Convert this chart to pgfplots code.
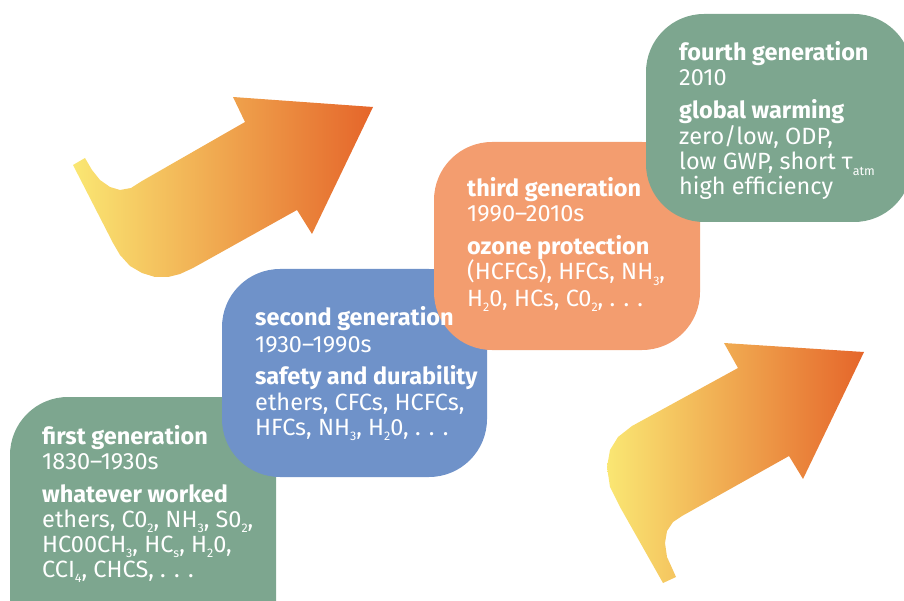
\documentclass[border=0pt]{standalone}
\usepackage{fontspec}
\setmainfont{Fira Sans}
\usepackage{pgfplots}
\pgfplotsset{compat=1.18}

\definecolor{genA}{HTML}{7DA68F}
\definecolor{genB}{HTML}{6F92C9}
\definecolor{genC}{HTML}{F39D6F}
\definecolor{arrY}{HTML}{FAE773}
\definecolor{arrM}{HTML}{F0AE4C}
\definecolor{arrO}{HTML}{E5652A}

\newcommand{\sub}[1]{\raisebox{-0.25em}{\fontsize{12.5}{12.5}\selectfont #1}}
\newcommand{\txt}[3]{\node[anchor=base west,inner sep=0pt,text=white,
  font=\fontsize{23.5}{23.5}\selectfont] at (axis cs:#1,#2) {#3};}

\begin{document}
\begin{tikzpicture}
\useasboundingbox (0,0) rectangle (904pt,601pt);
\begin{axis}[
    width=904pt, height=601pt, scale only axis,
    xmin=0, xmax=904, ymin=0, ymax=601,
    y dir=reverse,
    axis lines=none,
    clip=true,
  ]
  % arrows
  \addplot[draw=none, left color=arrY, middle color=arrM, right color=arrO, forget plot]
    coordinates {(85,158) (92,170) (100,180) (110,187) (120,190) (131,188) (142,181)
      (245,122) (233,97) (373,107) (312,234) (297,210) (193,268) (180,274) (168,277)
      (155,277) (142,273) (130,266) (120,255) (113,243) (73,165)} -- cycle;
  \addplot[draw=none, left color=arrY, middle color=arrM, right color=arrO, forget plot]
    coordinates {(724,343) (864,352) (803,479) (789,456) (682,516) (673,522) (667,531)
      (665,543) (667,557) (672,568) (676,577) (663,583) (650,560) (620,507) (610,487)
      (607,467) (610,450) (618,437) (632,426) (738,368)} -- cycle;

  % generation boxes
  \addplot[draw=none, fill=genA, rounded corners=58pt, forget plot]
    coordinates {(143,397) (276,397) (276,680) (10,680) (10,397)} -- cycle;
  \addplot[draw=none, fill=genB, rounded corners=58pt, forget plot]
    coordinates {(354,269) (487,269) (487,477) (222,477) (222,269)} -- cycle;
  \addplot[draw=none, fill=genC, rounded corners=58pt, forget plot]
    coordinates {(567,142) (700,142) (700,350) (434,350) (434,142)} -- cycle;
  \addplot[draw=none, fill=genA, rounded corners=58pt, forget plot]
    coordinates {(780,14) (912,14) (912,222) (646,222) (646,14)} -- cycle;

  % first generation
  \txt{42}{444}{\bfseries first generation}
  \txt{42}{469}{1830–1930s}
  \txt{42}{502}{\bfseries whatever worked}
  \txt{42}{527}{ethers, C0\sub{2}, NH\sub{3}, S0\sub{2},}
  \txt{42}{552}{HC00CH\sub{3}, HC\sub{s}, H\sub{2}0,}
  \txt{42}{577}{CCI\sub{4}, CHCS, . . .}
  % second generation
  \txt{255}{326}{\bfseries second generation}
  \txt{255}{352}{1930–1990s}
  \txt{255}{384}{\bfseries safety and durability}
  \txt{255}{410}{ethers, CFCs, HCFCs,}
  \txt{255}{435}{HFCs, NH\sub{3}, H\sub{2}0, . . .}
  % third generation
  \txt{467}{197}{\bfseries third generation}
  \txt{467}{222}{1990–2010s}
  \txt{467}{255}{\bfseries ozone protection}
  \txt{467}{280}{(HCFCs), HFCs, NH\sub{3},}
  \txt{467}{306}{H\sub{2}0, HCs, C0\sub{2}, . . .}
  % fourth generation
  \txt{679}{61}{\bfseries fourth generation}
  \txt{679}{86}{2010}
  \txt{679}{119}{\bfseries global warming}
  \txt{679}{145}{zero/low, ODP,}
  \txt{679}{170}{low GWP, short τ\sub{atm}}
  \txt{679}{195}{high efficiency}
\end{axis}
\end{tikzpicture}
\end{document}
